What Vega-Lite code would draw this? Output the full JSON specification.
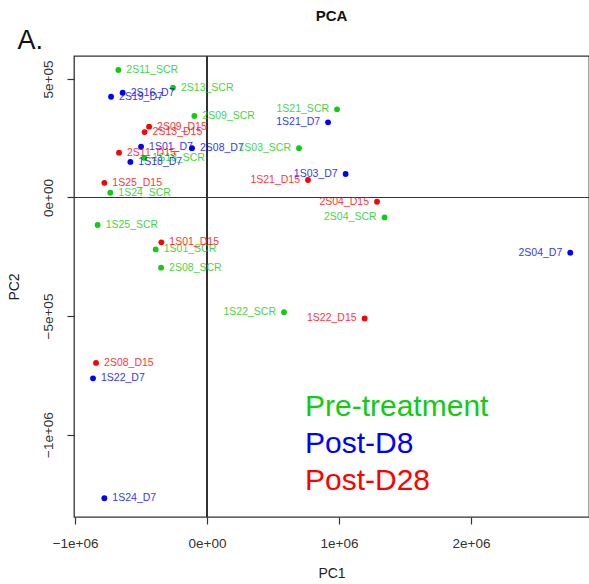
{
  "$schema": "https://vega.github.io/schema/vega-lite/v6.json",
  "autosize": {"type": "none"},
  "width": 515,
  "height": 461,
  "padding": {"left": 74, "top": 56, "right": 0, "bottom": 67},
  "background": "white",
  "title": {"text": "PCA", "anchor": "middle", "frame": "group", "fontSize": 15, "fontWeight": "bold", "font": "Liberation Sans", "baseline": "alphabetic", "offset": -10, "color": "#111"},
  "config": {
    "view": {"stroke": "#333", "strokeWidth": 1.3},
    "font": "Liberation Sans",
    "axis": {"grid": false, "labelFont": "Liberation Sans", "titleFont": "Liberation Sans", "labelColor": "#333", "titleColor": "#222", "tickColor": "#333", "domainColor": "#333", "labelFontSize": 13.5, "titleFontSize": 14, "titleFontWeight": "normal", "tickSize": 7, "tickWidth": 1.2},
    "axisBottom": {"labelPadding": 12, "titlePadding": 17, "domain": false},
    "axisLeft": {"labelPadding": 12, "titlePadding": 20, "labelAngle": -90, "labelAlign": "center", "labelBaseline": "bottom", "domain": false},
    "axisTop": {"labels": false, "ticks": false, "domain": false, "titleFontSize": 27, "titleColor": "#111", "titleX": -57, "titleY": -8, "titleAlign": "left", "titleBaseline": "alphabetic", "titleAngle": 0, "titleAnchor": null}
  },
  "data": {"values": [
    {"id": "2S11_SCR", "group": "Pre-treatment", "PC1": -672000, "PC2": 538000},
    {"id": "2S13_SCR", "group": "Pre-treatment", "PC1": -258000, "PC2": 463000},
    {"id": "2S09_SCR", "group": "Pre-treatment", "PC1": -96000, "PC2": 344000},
    {"id": "1S18_SCR", "group": "Pre-treatment", "PC1": -475000, "PC2": 167000},
    {"id": "1S24_SCR", "group": "Pre-treatment", "PC1": -733000, "PC2": 20000},
    {"id": "1S21_SCR", "group": "Pre-treatment", "PC1": 985000, "PC2": 372000},
    {"id": "1S03_SCR", "group": "Pre-treatment", "PC1": 697000, "PC2": 208000},
    {"id": "2S04_SCR", "group": "Pre-treatment", "PC1": 1345000, "PC2": -84000},
    {"id": "1S25_SCR", "group": "Pre-treatment", "PC1": -829000, "PC2": -116000},
    {"id": "1S01_SCR", "group": "Pre-treatment", "PC1": -389000, "PC2": -219000},
    {"id": "2S08_SCR", "group": "Pre-treatment", "PC1": -348000, "PC2": -296000},
    {"id": "1S22_SCR", "group": "Pre-treatment", "PC1": 583000, "PC2": -484000},
    {"id": "2S19_D7", "group": "Post-D8", "PC1": -727000, "PC2": 425000},
    {"id": "2S16_D7", "group": "Post-D8", "PC1": -639000, "PC2": 442000},
    {"id": "1S01_D7", "group": "Post-D8", "PC1": -500000, "PC2": 214000},
    {"id": "2S08_D7", "group": "Post-D8", "PC1": -114000, "PC2": 208000},
    {"id": "1S18_D7", "group": "Post-D8", "PC1": -581000, "PC2": 150000},
    {"id": "1S21_D7", "group": "Post-D8", "PC1": 917000, "PC2": 317000},
    {"id": "1S03_D7", "group": "Post-D8", "PC1": 1050000, "PC2": 99000},
    {"id": "2S04_D7", "group": "Post-D8", "PC1": 2752000, "PC2": -233000},
    {"id": "1S22_D7", "group": "Post-D8", "PC1": -864000, "PC2": -763000},
    {"id": "1S24_D7", "group": "Post-D8", "PC1": -778000, "PC2": -1269000},
    {"id": "2S09_D15", "group": "Post-D28", "PC1": -439000, "PC2": 299000},
    {"id": "2S13_D15", "group": "Post-D28", "PC1": -473000, "PC2": 276000},
    {"id": "2S11_D15", "group": "Post-D28", "PC1": -667000, "PC2": 189000},
    {"id": "1S25_D15", "group": "Post-D28", "PC1": -778000, "PC2": 62000},
    {"id": "1S21_D15", "group": "Post-D28", "PC1": 765000, "PC2": 74000},
    {"id": "2S04_D15", "group": "Post-D28", "PC1": 1288000, "PC2": -18000},
    {"id": "1S01_D15", "group": "Post-D28", "PC1": -346000, "PC2": -189000},
    {"id": "1S22_D15", "group": "Post-D28", "PC1": 1194000, "PC2": -510000},
    {"id": "2S08_D15", "group": "Post-D28", "PC1": -841000, "PC2": -698000}
  ]},
  "resolve": {"axis": {"x": "independent"}},
  "layer": [
    {
      "mark": {"type": "rule", "color": "#333", "strokeWidth": 1.2},
      "encoding": {
        "x": {"datum": 0, "type": "quantitative", "scale": {"domain": [-1008000, 2894000], "nice": false, "zero": false}, "axis": {"orient": "top", "title": "A."}}
      }
    },
    {
      "mark": {"type": "rule", "color": "#333", "strokeWidth": 1.2},
      "encoding": {
        "y": {"datum": 0, "type": "quantitative", "scale": {"domain": [-1348000, 597000], "nice": false, "zero": false}}
      }
    },
    {
      "mark": {"type": "circle", "size": 34, "opacity": 1},
      "encoding": {
        "x": {"field": "PC1", "type": "quantitative", "scale": {"domain": [-1008000, 2894000], "nice": false, "zero": false}, "axis": {"orient": "bottom", "title": "PC1", "values": [-1000000, 0, 1000000, 2000000], "labelExpr": "datum.value == -1000000 ? '\u22121e+06' : datum.value == 0 ? '0e+00' : datum.value == 1000000 ? '1e+06' : '2e+06'"}},
        "y": {"field": "PC2", "type": "quantitative", "scale": {"domain": [-1348000, 597000], "nice": false, "zero": false}, "axis": {"title": "PC2", "values": [-1000000, -500000, 0, 500000], "labelExpr": "datum.value == -1000000 ? '\u22121e+06' : datum.value == -500000 ? '\u22125e+05' : datum.value == 0 ? '0e+00' : '5e+05'"}},
        "color": {"field": "group", "type": "nominal", "scale": {"domain": ["Pre-treatment", "Post-D8", "Post-D28"], "range": ["#11cc11", "#0000ff", "#ff0000"]}, "legend": {"orient": "none", "legendX": 201, "legendY": 336, "title": null, "padding": 0, "labelFontSize": 30, "labelFont": "Liberation Sans", "symbolSize": 0, "symbolOpacity": 0, "symbolStrokeWidth": 0, "labelOffset": 0, "rowPadding": 7, "labelLimit": 400, "labelColor": {"expr": "datum.value == 'Pre-treatment' ? '#11cc11' : datum.value == 'Post-D8' ? '#0000ff' : '#ff0000'"}}}
      }
    },
    {
      "transform": [{"filter": "datum.PC1 <= 0"}],
      "mark": {"type": "text", "align": "left", "baseline": "middle", "dx": 8, "fontSize": 10.5, "font": "Liberation Sans", "opacity": 0.8},
      "encoding": {
        "x": {"field": "PC1", "type": "quantitative", "axis": null},
        "y": {"field": "PC2", "type": "quantitative"},
        "text": {"field": "id"},
        "color": {"field": "group", "type": "nominal"}
      }
    },
    {
      "transform": [{"filter": "datum.PC1 > 0"}],
      "mark": {"type": "text", "align": "right", "baseline": "middle", "dx": -8, "fontSize": 10.5, "font": "Liberation Sans", "opacity": 0.8},
      "encoding": {
        "x": {"field": "PC1", "type": "quantitative", "axis": null},
        "y": {"field": "PC2", "type": "quantitative"},
        "text": {"field": "id"},
        "color": {"field": "group", "type": "nominal"}
      }
    }
  ]
}
